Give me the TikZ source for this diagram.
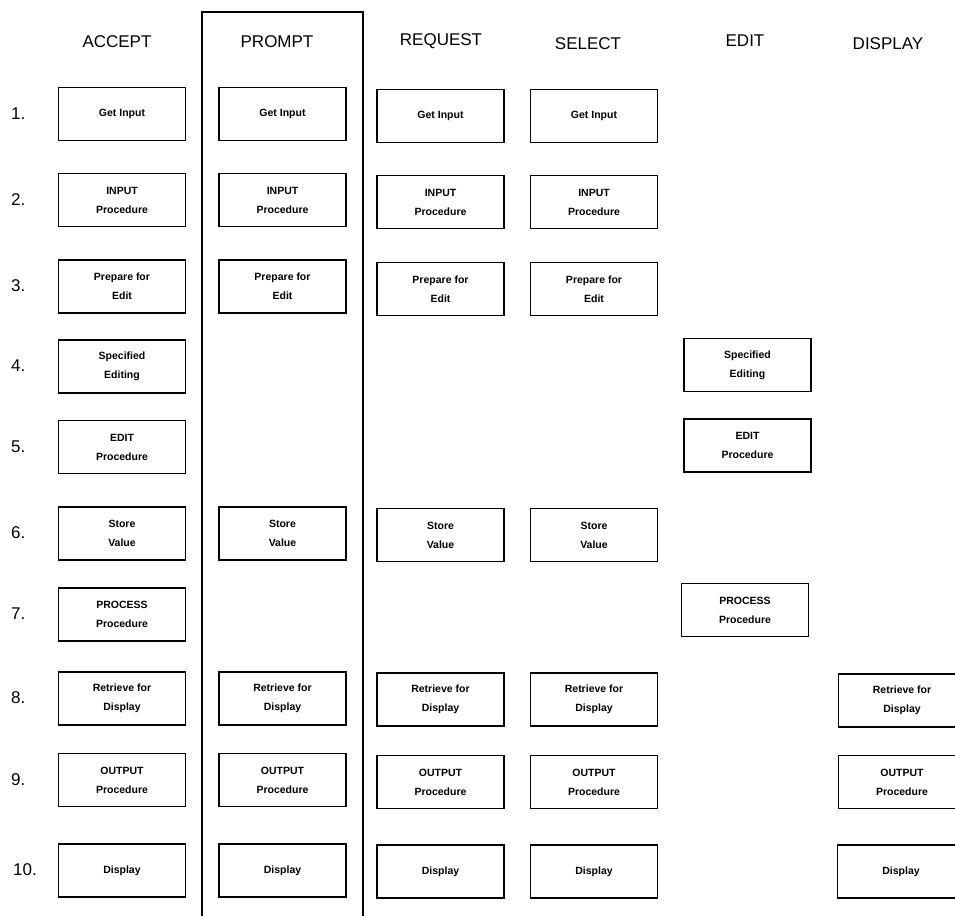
\documentclass[tikz,border=0pt]{standalone}
\usepackage{fontspec}
\setmainfont{Liberation Sans}

\begin{document}
\begin{tikzpicture}[x=1pt, y=-1pt,
    box/.style={rectangle, draw=black, line width=1.2pt, minimum width=127pt, minimum height=53pt, inner sep=0pt, align=center, font=\bfseries\fontsize{10.5}{19}\selectfont},
    head/.style={font=\fontsize{17}{20}\selectfont},
    num/.style={anchor=west, inner sep=0pt, font=\fontsize{17}{20}\selectfont}
    ]
    \useasboundingbox (0,0) rectangle (955,916);
    % Headers
    \node[head] (hAccept) at (117,42) {ACCEPT};
    \node[head] (hPrompt) at (277,42) {PROMPT};
    \node[head] (hRequest) at (441,41) {REQUEST};
    \node[head] (hSelect) at (588,44) {SELECT};
    \node[head] (hEdit) at (745,41) {EDIT};
    \node[head] (hDisplay) at (888,44) {DISPLAY};
    % Row numbers
    \node[num] (n1) at (11,114) {1.};
    \node[num] (n2) at (11,200) {2.};
    \node[num] (n3) at (11,286) {3.};
    \node[num] (n4) at (11,366) {4.};
    \node[num] (n5) at (11,447) {5.};
    \node[num] (n6) at (11,533) {6.};
    \node[num] (n7) at (11,614) {7.};
    \node[num] (n8) at (11,698) {8.};
    \node[num] (n9) at (11,780) {9.};
    \node[num] (n10) at (13,870) {10.};
    % PROMPT frame
    \draw[line width=1.2pt] (202,916) -- (202,12) -- (363,12) -- (363,916);
    % ACCEPT
    \node[box] (a1) at (122,114) {Get Input};
    \node[box] (a2) at (122,200) {INPUT\\Procedure};
    \node[box] (a3) at (122,286.5) {Prepare for\\Edit};
    \node[box] (a4) at (122,366.5) {Specified\\Editing};
    \node[box] (a5) at (122,447) {EDIT\\Procedure};
    \node[box] (a6) at (122,533.5) {Store\\Value};
    \node[box] (a7) at (122,614.5) {PROCESS\\Procedure};
    \node[box] (a8) at (122,698.5) {Retrieve for\\Display};
    \node[box] (a9) at (122,780) {OUTPUT\\Procedure};
    \node[box] (a10) at (122,870.5) {Display};
    % PROMPT
    \node[box] (p1) at (282.5,114) {Get Input};
    \node[box] (p2) at (282.5,200) {INPUT\\Procedure};
    \node[box] (p3) at (282.5,286.5) {Prepare for\\Edit};
    \node[box] (p6) at (282.5,533.5) {Store\\Value};
    \node[box] (p8) at (282.5,698.5) {Retrieve for\\Display};
    \node[box] (p9) at (282.5,780) {OUTPUT\\Procedure};
    \node[box] (p10) at (282.5,870.5) {Display};
    % REQUEST
    \node[box] (r1) at (440.5,116) {Get Input};
    \node[box] (r2) at (440.5,202) {INPUT\\Procedure};
    \node[box] (r3) at (440.5,289) {Prepare for\\Edit};
    \node[box] (r6) at (440.5,535) {Store\\Value};
    \node[box] (r8) at (440.5,699.5) {Retrieve for\\Display};
    \node[box] (r9) at (440.5,782) {OUTPUT\\Procedure};
    \node[box] (r10) at (440.5,871.5) {Display};
    % SELECT
    \node[box] (s1) at (594,116) {Get Input};
    \node[box] (s2) at (594,202) {INPUT\\Procedure};
    \node[box] (s3) at (594,289) {Prepare for\\Edit};
    \node[box] (s6) at (594,535) {Store\\Value};
    \node[box] (s8) at (594,699.5) {Retrieve for\\Display};
    \node[box] (s9) at (594,782) {OUTPUT\\Procedure};
    \node[box] (s10) at (594,871.5) {Display};
    % EDIT
    \node[box] (e4) at (747.5,365) {Specified\\Editing};
    \node[box] (e5) at (747.5,445.5) {EDIT\\Procedure};
    \node[box] (e7) at (745,610) {PROCESS\\Procedure};
    % DISPLAY
    \node[box] (d8) at (902,700.5) {Retrieve for\\Display};
    \node[box] (d9) at (902,782) {OUTPUT\\Procedure};
    \node[box] (d10) at (901,871.5) {Display};
\end{tikzpicture}
\end{document}
